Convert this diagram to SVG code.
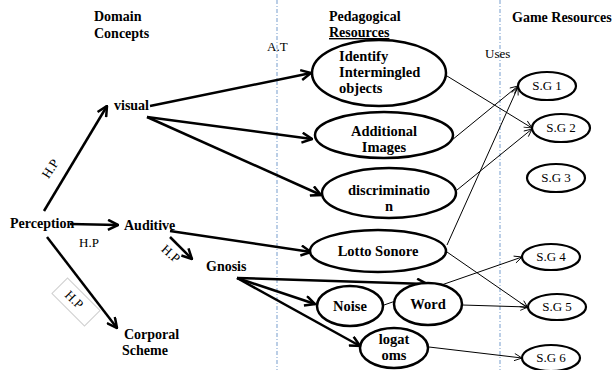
<svg xmlns="http://www.w3.org/2000/svg" width="613" height="370" viewBox="0 0 613 370">
<defs>
<style>
.h{font-family:"Liberation Serif",serif;font-weight:bold;font-size:14px;fill:#000}
.b{font-family:"Liberation Serif",serif;font-weight:bold;font-size:14.5px;fill:#000}
.n{font-family:"Liberation Serif",serif;font-size:13px;fill:#000}
.thick{stroke:#000;stroke-width:2.5;fill:none;marker-end:url(#ah)}
.thin{stroke:#000;stroke-width:1;fill:none;marker-end:url(#at)}
.node{fill:#fff;stroke:#000;stroke-width:2.5}
.sg{fill:#fff;stroke:#000;stroke-width:2.2}
.sep{stroke:#8eaed6;stroke-width:1.2;stroke-dasharray:4 2 1 2;fill:none}
</style>
<marker id="ah" viewBox="0 0 12 12" refX="11" refY="6" markerWidth="12" markerHeight="12" markerUnits="userSpaceOnUse" orient="auto">
<path d="M1,1 L11,6 L1,11" fill="none" stroke="#000" stroke-width="2.5"/>
</marker>
<marker id="at" viewBox="0 0 10 10" refX="9.5" refY="5" markerWidth="9" markerHeight="9" markerUnits="userSpaceOnUse" orient="auto">
<path d="M1,1 L9.5,5 L1,9" fill="none" stroke="#000" stroke-width="1"/>
</marker>
</defs>
<rect width="613" height="370" fill="#fff"/>
<g id="separators">
<line class="sep" x1="277" y1="0" x2="277" y2="370"/>
<line class="sep" x1="500" y1="0" x2="500" y2="370"/>
</g>
<g id="headers">
<text class="h" x="94" y="21">Domain</text>
<text class="h" x="94" y="38">Concepts</text>
<text class="h" x="329" y="21">Pedagogical</text>
<text class="h" x="329" y="37" text-decoration="underline">Resources</text>
<text class="h" x="512" y="22">Game Resources</text>
<text class="n" x="267" y="51">A.T</text>
<text class="n" x="485" y="58">Uses</text>
</g>
<g id="connectors">
<path class="thick" d="M44,211 L107,106"/>
<path class="thick" d="M150,106 L311,73"/>
<path class="thick" d="M147,117 L312,139"/>
<path class="thick" d="M147,117 L321,195"/>
<path class="thick" d="M70,224 L118,225"/>
<path class="thick" d="M170,231 L311,252"/>
<path class="thick" d="M170,237 L192,259"/>
<path class="thick" d="M47,237 L117,328"/>
<path class="thick" d="M237,278 L427,284"/>
<path class="thick" d="M237,278 L315,304"/>
<path class="thick" d="M237,278 L360,346"/>
<path class="thin" d="M447,76 L532,128"/>
<path class="thin" d="M452,140 L518,86"/>
<path class="thin" d="M457,190 L532,129"/>
<path class="thin" d="M447,245 L518,87"/>
<path class="thin" d="M447,252 L528,308"/>
<path class="thin" d="M384,305 L522,257"/>
<path class="thin" d="M462,305 L528,307"/>
<path class="thin" d="M429,347 L522,358"/>
</g>
<g id="edge-labels">
<text class="n" transform="translate(54,171) rotate(-57)" text-anchor="middle">H.P</text>
<text class="n" x="79" y="247">H.P</text>
<text class="n" transform="translate(168,257) rotate(42)" text-anchor="middle">H.P</text>
<g transform="translate(76,302) rotate(45)">
<rect x="-23" y="-11" width="46" height="22" fill="#fff" stroke="#d0d0d0" stroke-width="1"/>
<text class="n" x="-3" y="4" text-anchor="middle">H.P</text>
</g>
</g>
<g id="perception"><text class="h" x="10" y="228">Perception</text></g>
<g id="visual"><text class="h" x="114" y="110">visual</text></g>
<g id="auditive"><text class="h" x="124" y="230">Auditive</text></g>
<g id="gnosis"><text class="h" x="206" y="271">Gnosis</text></g>
<g id="corporal"><text class="h" x="124" y="339">Corporal</text><text class="h" x="122" y="355">Scheme</text></g>
<g id="identify">
<ellipse class="node" cx="379" cy="73" rx="67" ry="33"/>
<text class="b" x="339" y="61">Identify</text>
<text class="b" x="339" y="77">Intermingled</text>
<text class="b" x="339" y="93">objects</text>
</g>
<g id="additional">
<ellipse class="node" cx="384" cy="135" rx="69" ry="23"/>
<text class="b" x="384" y="136" text-anchor="middle">Additional</text>
<text class="b" x="384" y="152" text-anchor="middle">Images</text>
</g>
<g id="discrimination">
<ellipse class="node" cx="389" cy="193" rx="67" ry="25"/>
<text class="b" x="389" y="195" text-anchor="middle">discriminatio</text>
<text class="b" x="389" y="211" text-anchor="middle">n</text>
</g>
<g id="lotto">
<ellipse class="node" cx="378" cy="251" rx="68" ry="21"/>
<text class="b" x="378" y="256" text-anchor="middle">Lotto Sonore</text>
</g>
<g id="noise">
<ellipse class="node" cx="350" cy="306" rx="33" ry="20"/>
<text class="b" x="350" y="311" text-anchor="middle">Noise</text>
</g>
<g id="word">
<ellipse class="node" cx="428" cy="304" rx="34" ry="21"/>
<text class="b" x="428" y="309" text-anchor="middle">Word</text>
</g>
<g id="logatoms">
<ellipse class="node" cx="394" cy="348" rx="34" ry="20"/>
<text class="b" x="394" y="344" text-anchor="middle">logat</text>
<text class="b" x="394" y="360" text-anchor="middle">oms</text>
</g>
<g id="sg1"><ellipse class="sg" cx="547" cy="86" rx="29" ry="14"/><text class="n" x="547" y="90" text-anchor="middle">S.G 1</text></g>
<g id="sg2"><ellipse class="sg" cx="561" cy="128" rx="29" ry="14"/><text class="n" x="561" y="132" text-anchor="middle">S.G 2</text></g>
<g id="sg3"><ellipse class="sg" cx="556" cy="178" rx="29" ry="14"/><text class="n" x="556" y="182" text-anchor="middle">S.G 3</text></g>
<g id="sg4"><ellipse class="sg" cx="551" cy="257" rx="29" ry="13"/><text class="n" x="551" y="261" text-anchor="middle">S.G 4</text></g>
<g id="sg5"><ellipse class="sg" cx="557" cy="307" rx="29" ry="13"/><text class="n" x="557" y="311" text-anchor="middle">S.G 5</text></g>
<g id="sg6"><ellipse class="sg" cx="551" cy="358" rx="29" ry="13"/><text class="n" x="551" y="362" text-anchor="middle">S.G 6</text></g>
</svg>
